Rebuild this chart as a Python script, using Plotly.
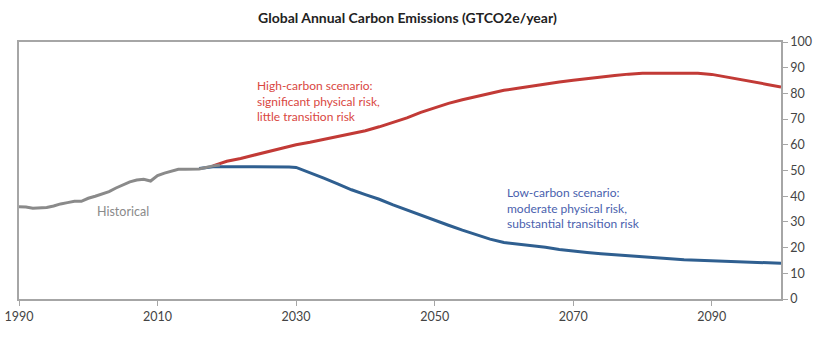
import plotly.graph_objects as go

hist_years = [1990, 1991, 1992, 1993, 1994, 1995, 1996, 1997, 1998, 1999, 2000,
              2001, 2002, 2003, 2004, 2005, 2006, 2007, 2008, 2009, 2010, 2011,
              2012, 2013, 2014, 2015, 2016, 2017, 2018, 2019]
hist_vals = [35.9, 35.8, 35.3, 35.5, 35.6, 36.2, 37.0, 37.5, 38.0, 38.0, 39.2,
             40.0, 40.8, 41.8, 43.2, 44.5, 45.6, 46.3, 46.6, 45.9, 48.0, 49.0,
             49.8, 50.5, 50.5, 50.5, 50.6, 51.2, 51.8, 52.1]

low_years = [2016, 2018, 2020, 2022, 2024, 2026, 2028, 2029, 2030, 2032, 2034, 2036,
             2038, 2040, 2042, 2044, 2046, 2048, 2050, 2052, 2054, 2056, 2058,
             2060, 2062, 2064, 2066, 2068, 2070, 2072, 2074, 2076, 2078, 2080,
             2082, 2084, 2086, 2088, 2090, 2092, 2094, 2096, 2098, 2100]
low_vals = [50.8, 51.5, 51.5, 51.5, 51.5, 51.5, 51.5, 51.4, 51.2, 49.2, 47.0, 44.8,
            42.5, 40.6, 38.8, 36.6, 34.6, 32.4, 30.5, 28.7, 26.8, 25.0, 23.3,
            22.0, 21.4, 20.8, 20.1, 19.3, 18.6, 18.1, 17.6, 17.2, 16.8, 16.3,
            16.0, 15.7, 15.3, 15.1, 14.9, 14.6, 14.4, 14.2, 14.0, 13.9]

high_years = [2018, 2019, 2020, 2022, 2024, 2026, 2028, 2030, 2032, 2034, 2036,
              2038, 2040, 2042, 2044, 2046, 2048, 2050, 2052, 2054, 2056, 2058,
              2060, 2062, 2064, 2066, 2068, 2070, 2072, 2074, 2076, 2078, 2080,
              2082, 2084, 2086, 2088, 2090, 2092, 2094, 2096, 2098, 2100]
high_vals = [51.8, 52.8, 53.6, 54.7, 56.1, 57.4, 58.7, 60.0, 61.0, 62.2, 63.3,
             64.4, 65.5, 67.0, 68.6, 70.5, 72.6, 74.4, 76.1, 77.5, 78.7, 80.0,
             81.2, 82.0, 82.9, 83.7, 84.4, 85.1, 85.8, 86.4, 87.0, 87.5, 87.8,
             87.8, 87.8, 87.8, 87.8, 87.4, 86.5, 85.4, 84.4, 83.5, 82.5]

x_ticks = [1990, 2010, 2030, 2050, 2070, 2090]
y_ticks = list(range(0, 101, 10))

high_text = ["High-carbon scenario:", "significant physical risk,", "little transition risk"]
low_text = ["Low-carbon scenario:", "moderate physical risk,", "substantial transition risk"]

FONT = "Lato"
RED = "#c23a36"
BLUE = "#2f5f90"
GRAY = "#8a8a8a"
AXIS = "#a6a6a6"

fig = go.Figure()
fig.add_trace(go.Scatter(x=low_years, y=low_vals, mode="lines",
                         line=dict(color=BLUE, width=3), showlegend=False))
fig.add_trace(go.Scatter(x=high_years, y=high_vals, mode="lines",
                         line=dict(color=RED, width=3), showlegend=False))
fig.add_trace(go.Scatter(x=hist_years, y=hist_vals, mode="lines",
                         line=dict(color=GRAY, width=3), showlegend=False))

fig.add_annotation(x=2024.1, y=77.0, xref="x", yref="y", xanchor="left", yanchor="middle",
                   align="left", showarrow=False, text="<br>".join(high_text),
                   font=dict(family=FONT, size=12, color="#d9473f"))
fig.add_annotation(x=2060.2, y=35.4, xref="x", yref="y", xanchor="left", yanchor="middle",
                   align="left", showarrow=False, text="<br>".join(low_text),
                   font=dict(family=FONT, size=12, color="#4a5fae"))
fig.add_annotation(x=2001.0, y=33.9, xref="x", yref="y", xanchor="left", yanchor="middle",
                   showarrow=False, text="Historical",
                   font=dict(family=FONT, size=12.5, color=GRAY))

fig.update_layout(
    width=840, height=338,
    margin=dict(l=19, r=59, t=42, b=39, autoexpand=False),
    paper_bgcolor="white", plot_bgcolor="white",
    title=dict(text="<b>Global Annual Carbon Emissions (GTCO2e/year)</b>",
               x=0.485, xanchor="center", y=0.945, yanchor="middle",
               font=dict(family=FONT, size=14, color="#222")),
    font=dict(family=FONT, size=12, color="#444"),
    xaxis=dict(range=[1990, 2100], tickvals=x_ticks, ticks="outside", ticklen=5,
               tickcolor=AXIS, showline=True, linecolor=AXIS, linewidth=1.5,
               mirror=True, showgrid=False, zeroline=False, automargin=False,
               tickfont=dict(family=FONT, size=12.5, color="#444")),
    yaxis=dict(range=[0, 100], tickvals=y_ticks, side="right", ticks="outside",
               ticklen=5, tickcolor=AXIS, showline=True, linecolor=AXIS,
               linewidth=1.5, mirror=True, showgrid=False, zeroline=False,
               automargin=False,
               tickfont=dict(family=FONT, size=12.5, color="#444")),
)

fig.write_html("out.html")
